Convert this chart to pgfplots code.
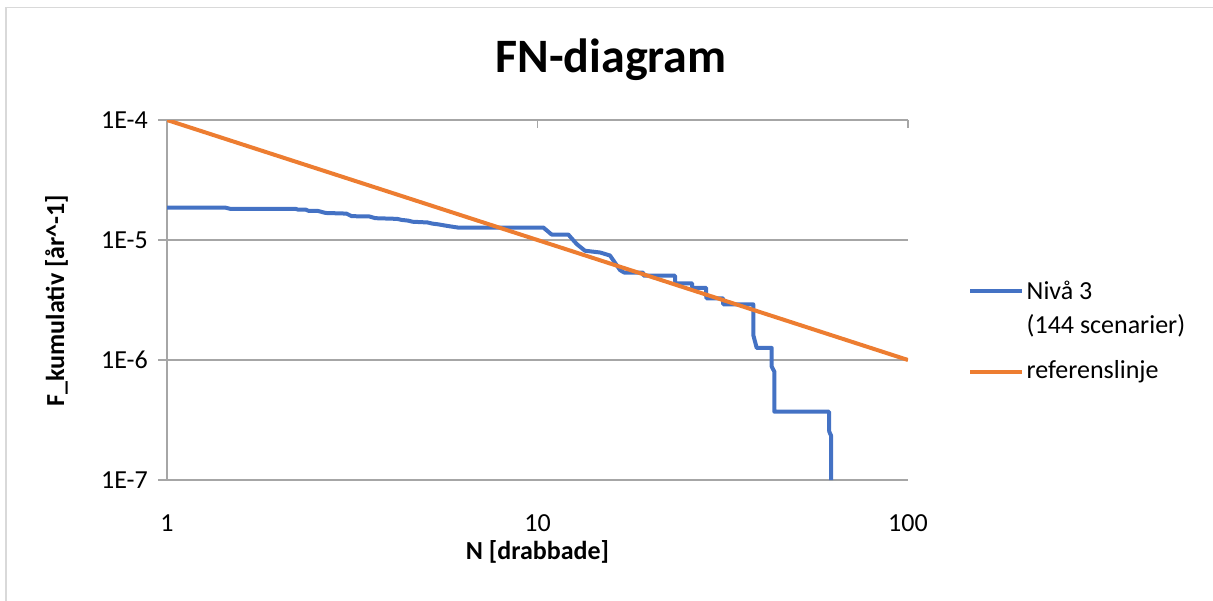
\documentclass[border=0pt]{standalone}
\usepackage{pgfplots}
\usepackage{pgfplotstable}
\pgfplotsset{compat=1.18}
\usepackage{fontspec}
\setmainfont{Carlito}

\definecolor{serieblue}{HTML}{4472C4}
\definecolor{reforange}{HTML}{ED7D31}
\definecolor{gridgray}{HTML}{A6A6A6}
\definecolor{framegray}{HTML}{D9D9D9}

% Cumulative frequency F(N) for the level-3 scenarios (step curve)
\pgfplotstableread{
N      F
1      1.86e-5
1.44   1.86e-5
1.48   1.82e-5
2.22   1.82e-5
2.26   1.79e-5
2.37   1.79e-5
2.41   1.75e-5
2.55   1.75e-5
2.68   1.68e-5
3.05   1.66e-5
3.15   1.58e-5
3.52   1.57e-5
3.65   1.52e-5
4.18   1.50e-5
4.30   1.47e-5
4.48   1.45e-5
4.60   1.42e-5
5.05   1.40e-5
5.20   1.37e-5
5.40   1.35e-5
5.55   1.33e-5
5.80   1.30e-5
6.10   1.27e-5
10.37  1.27e-5
10.92  1.11e-5
12.11  1.11e-5
12.76  9.25e-6
13.43  8.14e-6
14.75  7.87e-6
15.69  7.43e-6
16.70  5.62e-6
17.13  5.36e-6
19.27  5.36e-6
19.35  5.04e-6
23.50  5.04e-6
23.55  4.36e-6
26.12  4.36e-6
26.17  4.00e-6
28.50  4.00e-6
28.55  3.27e-6
31.67  3.27e-6
31.72  2.91e-6
38.23  2.91e-6
38.23  1.62e-6
39.05  1.26e-6
42.87  1.26e-6
42.87  8.8e-7
43.58  8.0e-7
43.58  3.71e-7
61.21  3.71e-7
61.30  2.53e-7
61.97  2.35e-7
61.97  1.0e-7
}\nivadata

% Reference line F = 1e-4 / N
\pgfplotstableread{
N    F
1    1e-4
100  1e-6
}\refdata

\begin{document}
\begin{tikzpicture}[x=1pt,y=1pt]
\useasboundingbox (0,0) rectangle (1213,601);
\draw[framegray, line width=1.2pt] (6,-20) rectangle (1240,593.5);

% title and axis titles
\node[anchor=base, font=\fontsize{48}{54}\selectfont\bfseries] at (611,528) {FN-diagram};
\node[anchor=base, font=\fontsize{26}{31}\selectfont\bfseries] at (537.5,41) {N [drabbade]};
\node[anchor=base, rotate=90, font=\fontsize{26}{31}\selectfont\bfseries] at (64,300.5) {F\_kumulativ [år\^{}-1]};

\begin{axis}[
  at={(167pt,121pt)}, anchor=south west,
  width=741pt, height=360pt, scale only axis,
  xmode=log, ymode=log,
  xmin=1, xmax=100, ymin=1e-7, ymax=1e-4,
  xminorticks=false, yminorticks=false,
  axis y line*=left, axis x line*=bottom,
  x axis line style={draw=none},
  y axis line style={gridgray, line width=1.2pt},
  xtick={1,10,100}, xticklabels={1,10,100},
  ytick={1e-7,1e-6,1e-5,1e-4}, yticklabels={1E-7,1E-6,1E-5,1E-4},
  ymajorgrids, grid style={gridgray, line width=1.2pt},
  xtick style={draw=none},
  ytick style={gridgray, line width=1.2pt},
  tick align=outside, major tick length=9pt,
  tick label style={font=\fontsize{26}{31}\selectfont},
  xticklabel style={anchor=base, inner sep=0pt, yshift=-43pt},
  yticklabel style={anchor=east, inner sep=0pt, xshift=-10pt},
]
\addplot[serieblue, line width=4pt, line join=round] table[x=N, y=F] {\nivadata};
\addplot[reforange, line width=4pt] table[x=N, y=F] {\refdata};
\end{axis}

% short ticks along the top edge
\begin{axis}[
  at={(167pt,121pt)}, anchor=south west,
  width=741pt, height=360pt, scale only axis,
  xmode=log, ymode=log,
  xmin=1, xmax=100, ymin=1e-7, ymax=1e-4,
  xminorticks=false,
  axis x line*=top, axis y line=none,
  x axis line style={draw=none},
  xtick={10,100}, xticklabels={},
  tick align=inside, major tick length=8pt,
  xtick style={gridgray, line width=1.2pt},
]
\end{axis}

% legend
\begin{scope}[font=\fontsize{26}{31}\selectfont]
  \draw[serieblue, line width=4pt] (970,310) -- (1021.5,310);
  \node[anchor=base west, inner sep=0pt] at (1026.5,301.7) {Nivå 3};
  \node[anchor=base west, inner sep=0pt] at (1026.5,267.7) {(144 scenarier)};
  \draw[reforange, line width=4pt] (970,229.3) -- (1021.5,229.3);
  \node[anchor=base west, inner sep=0pt] at (1026.5,222.7) {referenslinje};
\end{scope}
\end{tikzpicture}
\end{document}
